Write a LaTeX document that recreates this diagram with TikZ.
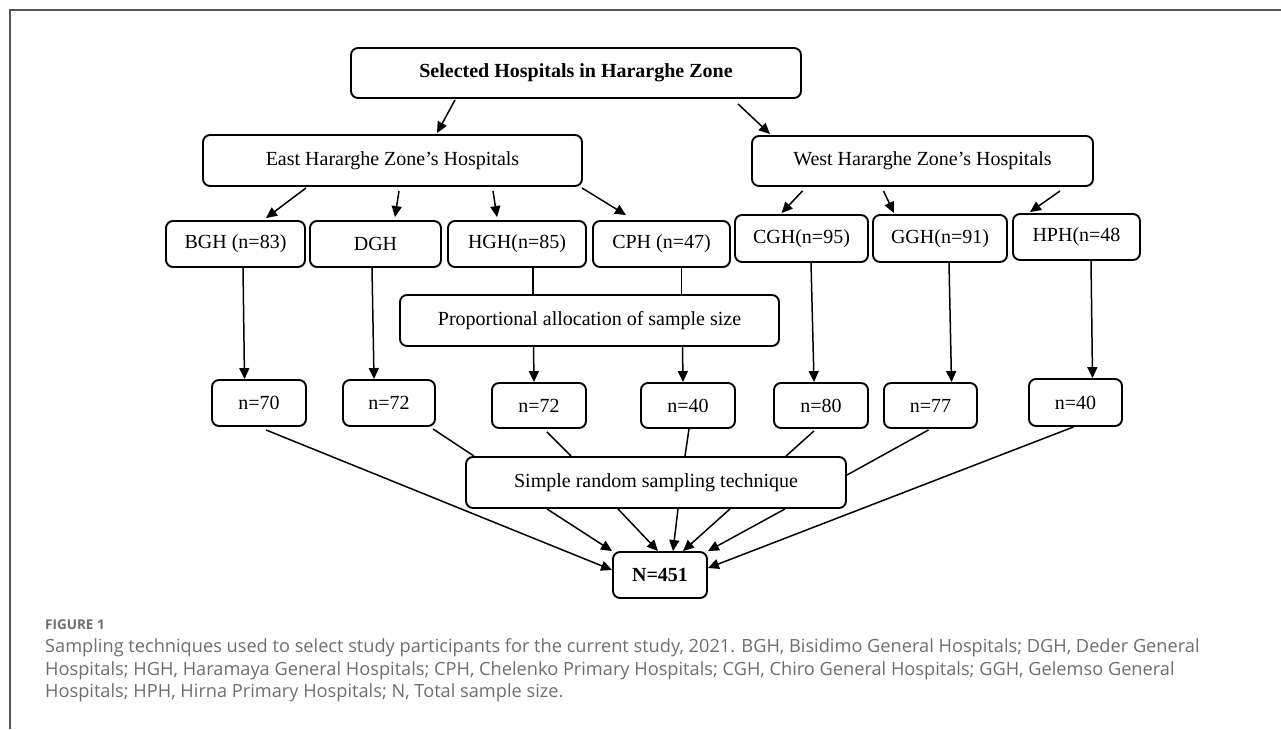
\documentclass[tikz,border=0pt]{standalone}
\usepackage{fontspec}
\setmainfont{Liberation Serif}
\newfontfamily\capfont{Open Sans}
\usetikzlibrary{arrows.meta}
\definecolor{capgray}{RGB}{110,110,110}
\definecolor{framegray}{RGB}{85,85,85}
\begin{document}
\begin{tikzpicture}[x=1pt,y=-1pt,
  box/.style={draw, line width=1.9pt, rounded corners=7pt, inner sep=0pt, align=center, font=\fontsize{20}{24}\selectfont},
  arr/.style={line width=1.5pt, -{Triangle[length=11pt,width=10pt]}},
  ln/.style={line width=1.5pt},
  capline/.style={anchor=west, inner sep=0pt, text=capgray, font=\capfont\fontsize{18.2}{21}\selectfont}
]
\useasboundingbox (0,0) rectangle (1281,729);
\draw[framegray, line width=1.5pt] (1281,10) -- (10,10) -- (10,729);

% nodes
\node[box,minimum width=450pt,minimum height=50pt] (top) at (576,73) {\bfseries Selected Hospitals in Hararghe Zone};
\node[box,minimum width=379pt,minimum height=51pt] (east) at (392.5,160.5) {East Hararghe Zone’s Hospitals};
\node[box,minimum width=341pt,minimum height=50pt] (west) at (922.5,161) {West Hararghe Zone’s Hospitals};

\node[box,minimum width=139pt,minimum height=46pt] (BGH) at (235.5,244) {BGH (n=83)};
\node[box,minimum width=131pt,minimum height=46pt] (DGH) at (375.5,244) {DGH};
\node[box,minimum width=138pt,minimum height=46pt] (HGH) at (517,244) {HGH(n=85)};
\node[box,minimum width=137pt,minimum height=46pt] (CPH) at (661.5,244) {CPH (n=47)};
\node[box,minimum width=133pt,minimum height=47pt] (CGH) at (801.5,238.5) {CGH(n=95)};
\node[box,minimum width=134pt,minimum height=47pt] (GGH) at (940,238.5) {GGH(n=91)};
\node[box,minimum width=127pt,minimum height=46pt] (HPH) at (1076.5,237) {HPH(n=48};

\node[box,minimum width=379pt,minimum height=51pt] (prop) at (589.5,320.5) {Proportional allocation of sample size};

\node[box,minimum width=94pt,minimum height=46pt] (n70) at (259,403) {n=70};
\node[box,minimum width=92pt,minimum height=46pt] (n72a) at (389,403) {n=72};
\node[box,minimum width=94pt,minimum height=45pt] (n72b) at (539,405.5) {n=72};
\node[box,minimum width=94pt,minimum height=45pt] (n40a) at (688,405.5) {n=40};
\node[box,minimum width=94pt,minimum height=45pt] (n80) at (821,405.5) {n=80};
\node[box,minimum width=93pt,minimum height=45pt] (n77) at (930.5,405.5) {n=77};
\node[box,minimum width=93pt,minimum height=47pt] (n40b) at (1075.5,402.5) {n=40};

\node[box,minimum width=380pt,minimum height=51pt] (simple) at (656,482.5) {Simple random sampling technique};
\node[box,minimum width=94pt,minimum height=46pt] (N) at (660,575) {\bfseries N=451};

% top level
\draw[arr] ([xshift=-121pt,yshift=-1pt]top.south) -- ([xshift=44.5pt,yshift=1pt]east.north);
\draw[arr] ([xshift=162pt,yshift=-5pt]top.south) -- ([xshift=-152.5pt,yshift=1pt]west.north);

% east children
\draw[arr] ([xshift=-86.5pt,yshift=-1pt]east.south) -- ([xshift=30.5pt,yshift=2pt]BGH.north);
\draw[arr] ([xshift=6.5pt,yshift=-4pt]east.south) -- ([xshift=19.5pt,yshift=3pt]DGH.north);
\draw[arr] ([xshift=100.5pt,yshift=-4pt]east.south) -- ([xshift=-20pt,yshift=3pt]HGH.north);
\draw[arr] ([xshift=-1pt,yshift=-1pt]east.south east) -- ([xshift=-35.5pt,yshift=5pt]CPH.north);

% west children
\draw[arr] ([xshift=-120pt,yshift=-4pt]west.south) -- ([xshift=-20pt,yshift=1pt]CGH.north);
\draw[arr] ([xshift=-39pt,yshift=-4pt]west.south) -- ([xshift=-46pt,yshift=1pt]GGH.north);
\draw[arr] ([xshift=137.5pt,yshift=-4pt]west.south) -- ([xshift=-46.5pt,yshift=1pt]HPH.north);

% vertical
\draw[arr] ([xshift=7.5pt]BGH.south) -- ([xshift=-14.5pt]n70.north);
\draw[arr] ([xshift=-3.5pt]DGH.south) -- ([xshift=-15pt]n72a.north);
\draw[ln] ([xshift=16pt]HGH.south) -- ([xshift=-56.5pt]prop.north);
\draw[ln] ([xshift=20pt]CPH.south) -- ([xshift=92pt]prop.north);
\draw[arr] ([xshift=-56pt]prop.south) -- ([xshift=-5pt]n72b.north);
\draw[arr] ([xshift=93pt]prop.south) -- ([xshift=-5pt]n40a.north);
\draw[arr] ([xshift=9.5pt]CGH.south) -- ([xshift=-7pt]n80.north);
\draw[arr] ([xshift=9pt]GGH.south) -- ([xshift=21pt]n77.north);
\draw[arr] ([xshift=14.5pt]HPH.south) -- ([xshift=17pt]n40b.north);

% n row to simple / N
\draw[arr] ([xshift=7pt,yshift=-3pt]n70.south) -- ([yshift=5pt]N.west);
\draw[ln] ([xshift=-3pt,yshift=-2pt]n72a.south east) -- ([xshift=-182pt]simple.north);
\draw[ln] ([xshift=8pt,yshift=-3pt]n72b.south) -- ([xshift=-85pt]simple.north);
\draw[ln] ([xshift=1pt]n40a.south) -- ([xshift=29pt]simple.north);
\draw[ln] ([xshift=-7pt,yshift=-2pt]n80.south) -- ([xshift=130pt]simple.north);
\draw[ln] ([xshift=-2pt,yshift=-1pt]n77.south) -- ([yshift=7.5pt]simple.east);
\draw[arr] ([xshift=-2pt]n40b.south) -- ([yshift=7pt]N.east);

% simple to N
\draw[arr] ([xshift=-109pt]simple.south) -- (N.north west);
\draw[arr] ([xshift=-38pt]simple.south) -- ([xshift=-2pt]N.north);
\draw[arr] ([xshift=22pt]simple.south) -- ([xshift=13pt]N.north);
\draw[arr] ([xshift=74pt]simple.south) -- ([xshift=23pt]N.north);
\draw[arr] ([xshift=129pt]simple.south) -- (N.north east);

% caption
\node[anchor=west, inner sep=0pt, text=capgray, font=\capfont\bfseries\fontsize{13.5}{15}\selectfont] (figlabel) at (45,625) {FIGURE 1};
\node[capline] (cap1) at (45,648) {Sampling techniques used to select study participants for the current study, 2021. BGH, Bisidimo General Hospitals; DGH, Deder General};
\node[capline] (cap2) at (45,670.5) {Hospitals; HGH, Haramaya General Hospitals; CPH, Chelenko Primary Hospitals; CGH, Chiro General Hospitals; GGH, Gelemso General};
\node[capline] (cap3) at (45,693) {Hospitals; HPH, Hirna Primary Hospitals; N, Total sample size.};
\end{tikzpicture}
\end{document}
